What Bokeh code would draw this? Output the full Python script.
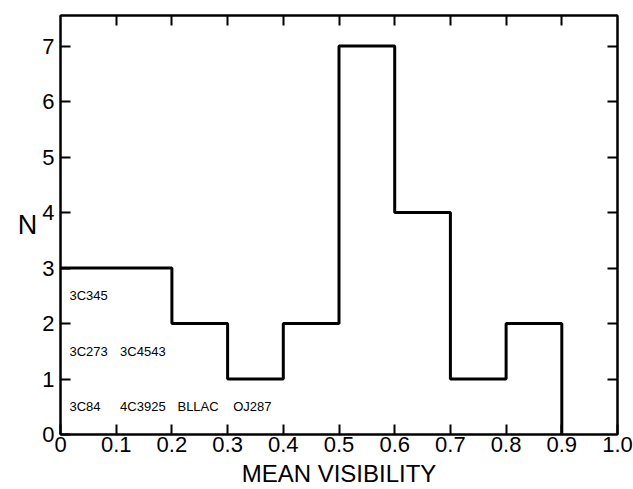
from bokeh.plotting import figure
from bokeh.models import LinearAxis, FixedTicker, Range1d, ColumnDataSource
from bokeh.core.properties import value
from bokeh.embed import file_html
from bokeh.resources import INLINE

# histogram data
bin_edges = [0.0, 0.2, 0.3, 0.4, 0.5, 0.6, 0.7, 0.8, 0.9]
counts = [3, 2, 1, 2, 7, 4, 1, 2, 0]

x_ticks = [0.0, 0.1, 0.2, 0.3, 0.4, 0.5, 0.6, 0.7, 0.8, 0.9, 1.0]
x_tick_labels = ["0", "0.1", "0.2", "0.3", "0.4", "0.5", "0.6", "0.7", "0.8", "0.9", "1.0"]
y_ticks = [0, 1, 2, 3, 4, 5, 6, 7]

# source names listed inside the lowest bin region
row_names = [["3C345"], ["3C273", "3C4543"], ["3C84", "4C3925", "BLLAC", "OJ287"]]
row_levels = [2.5, 1.5, 0.5]
col_starts = [0.016, 0.107, 0.21, 0.31]

FONT = "Liberation Sans"

p = figure(width=633, height=489, output_backend="svg", toolbar_location=None,
           x_range=Range1d(0, 1.0), y_range=Range1d(0, 7.55),
           min_border_left=60, min_border_right=16, min_border_top=15,
           min_border_bottom=55, x_axis_type=None, y_axis_type=None)
p.grid.visible = False
p.outline_line_color = "black"
p.outline_line_width = 2
p.background_fill_color = "white"
p.border_fill_color = "white"

def style(ax, labels=True):
    ax.major_tick_in = 10
    ax.major_tick_out = 0
    ax.minor_tick_line_color = None
    ax.axis_line_color = "black"
    ax.axis_line_width = 2
    ax.major_tick_line_width = 2
    ax.major_label_text_font = FONT
    ax.major_label_text_font_size = "22px"
    ax.major_label_text_color = "black"
    if not labels:
        ax.major_label_text_font_size = "0px"
        ax.major_label_text_alpha = 0

xb = LinearAxis(ticker=FixedTicker(ticks=x_ticks))
xb.major_label_overrides = {t: l for t, l in zip(x_ticks, x_tick_labels)}
style(xb)
xb.major_label_standoff = 2
xb.axis_label = "MEAN VISIBILITY"
xb.axis_label_text_font = FONT
xb.axis_label_text_font_size = "24px"
xb.axis_label_text_font_style = "normal"
xb.axis_label_text_color = "black"
xb.axis_label_standoff = 5
p.add_layout(xb, "below")

yl = LinearAxis(ticker=FixedTicker(ticks=y_ticks))
style(yl)
yl.major_label_standoff = 6
yl.axis_label = "N"
yl.axis_label_orientation = "horizontal"
yl.axis_label_text_font = FONT
yl.axis_label_text_font_size = "27px"
yl.axis_label_text_font_style = "normal"
yl.axis_label_text_color = "black"
yl.axis_label_standoff = 2
p.add_layout(yl, "left")

xt = LinearAxis(ticker=FixedTicker(ticks=x_ticks[1:-1]))
style(xt, labels=False)
p.add_layout(xt, "above")

yr = LinearAxis(ticker=FixedTicker(ticks=y_ticks[1:]))
style(yr, labels=False)
p.add_layout(yr, "right")

p.step(x=bin_edges, y=counts, mode="after", line_color="black", line_width=3)

tx, ty, tt = [], [], []
for names, lev in zip(row_names, row_levels):
    for i, n in enumerate(names):
        tx.append(col_starts[i])
        ty.append(lev)
        tt.append(n)
src = ColumnDataSource(dict(x=tx, y=ty, t=tt))
p.text(x="x", y="y", text="t", source=src, text_font=value(FONT),
       text_font_size="13px", text_baseline="middle", text_align="left",
       text_color="black")

open("out.html", "w").write(file_html(p, INLINE))
